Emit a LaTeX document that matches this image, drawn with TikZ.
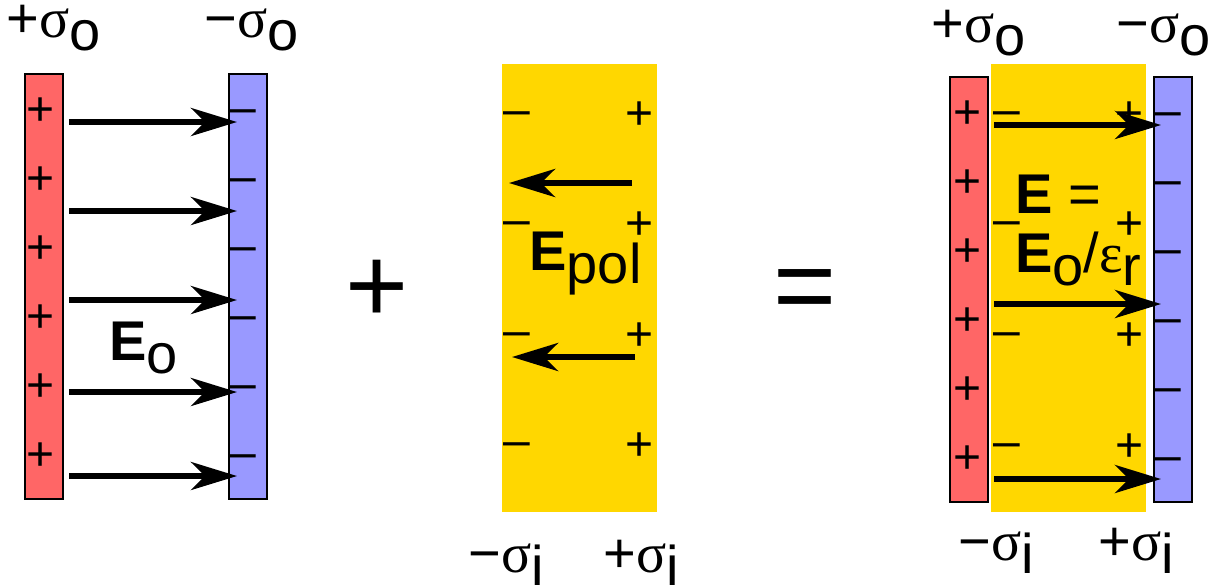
\documentclass[tikz,border=0pt]{standalone}
\usepackage{fontspec}
\setmainfont{Liberation Sans}
\newfontfamily\symfont{Liberation Serif}
\definecolor{posplate}{HTML}{FF6666}
\definecolor{negplate}{HTML}{9999FF}
\definecolor{dielectric}{HTML}{FFD700}
\usetikzlibrary{arrows.meta}
\newcommand{\sig}{{\symfont σ}}
\newcommand{\eps}{{\symfont ε}}
\newcommand{\low}[1]{\raisebox{-6.5pt}{#1}}
\tikzset{
  plate/.style={
    draw=black, line width=1pt, fill=#1,
    minimum width=19pt, minimum height=212.5pt, inner sep=0pt
  },
  plate/.default=posplate,
  slab/.style={
    fill=dielectric, minimum width=77.5pt, minimum height=224pt, inner sep=0pt
  },
  field/.style={-{Stealth[length=23pt,width=14pt,inset=7pt]}, line width=3pt},
  charge/.style={font=\fontsize{24}{24}\selectfont, inner sep=0pt, anchor=base},
  neg/.style={font=\fontsize{24}{24}\selectfont, inner sep=0pt, anchor=base west},
  lbl/.style={font=\fontsize{28}{28}\selectfont, inner sep=0pt, anchor=base west},
  op/.style={font=\fontsize{54}{54}\selectfont, inner sep=0pt, anchor=base},
}

\begin{document}
\begin{tikzpicture}[x=0.5pt, y=-0.5pt]
  \useasboundingbox (0,0) rectangle (1218,585);

  % Vacuum capacitor
  \node[plate=posplate] (pL) at (43.5,286.5) {};
  \node[plate=negplate] (nL) at (248,286.5) {};
  \foreach \y [count=\i] in {108,177,246,315,384,453}
    \node[charge] (pL\i) at (41,\y+17) {+};
  \foreach \y [count=\i] in {110,179,248,317,386,455}
    \node[neg] (nL\i) at (229,\y+13) {\textendash};
  \foreach \y in {122,211,300,392,476}
    \draw[field] (69,\y) -- (237,\y);
  \node[lbl] (sL1) at (6,37) {+\sig\low{o}};
  \node[lbl] (sL2) at (204,37) {\textminus\sig\low{o}};
  \node[lbl] (eL) at (109,360) {\textbf{E}\low{o}};

  \node[op] (plus) at (377,322) {+};

  % Polarised dielectric
  \node[slab] (dM) at (579.5,288) {};
  \foreach \y [count=\i] in {112,222,333,443} {
    \node[neg] (dMn\i) at (503,\y+13) {\textendash};
    \node[charge] (dMp\i) at (640,\y+17) {+};
  }
  \draw[field] (632,183) -- (509,183);
  \draw[field] (635,357) -- (512,357);
  \node[lbl] (eM) at (529,270) {\textbf{E}\low{pol}};
  \node[lbl] (sM1) at (468,572) {\textminus\sig\low{i}};
  \node[lbl] (sM2) at (603,572) {+\sig\low{i}};

  \node[op] (equal) at (805,322) {=};

  % Capacitor with dielectric
  \node[slab] (dR) at (1068.5,288) {};
  \node[plate=posplate] (pR) at (969,289.5) {};
  \node[plate=negplate] (nR) at (1173,289) {};
  \foreach \y [count=\i] in {111,180,249,318,387,456}
    \node[charge] (pR\i) at (967,\y+17) {+};
  \foreach \y [count=\i] in {113,182,251,320,389,458}
    \node[neg] (nR\i) at (1154,\y+13) {\textendash};
  \foreach \y [count=\i] in {112,222,333,444} {
    \node[neg] (dRn\i) at (993,\y+13) {\textendash};
    \node[charge] (dRp\i) at (1129,\y+17) {+};
  }
  \foreach \y in {125,304,479}
    \draw[field] (994,\y) -- (1161,\y);
  \node[lbl] (eR1) at (1015,213) {\textbf{E} =};
  \node[lbl] (eR2) at (1015,272) {\textbf{E}\low{o}/\eps\low{r}};
  \node[lbl] (sR1) at (931,42) {+\sig\low{o}};
  \node[lbl] (sR2) at (1116,42) {\textminus\sig\low{o}};
  \node[lbl] (sR3) at (958,560) {\textminus\sig\low{i}};
  \node[lbl] (sR4) at (1098,560) {+\sig\low{i}};
\end{tikzpicture}
\end{document}
